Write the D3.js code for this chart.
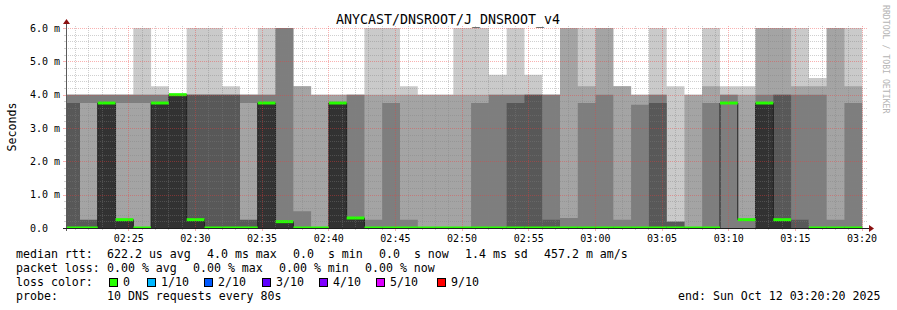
<!DOCTYPE html>
<html>
<head>
<meta charset="utf-8">
<script src="https://cdn.jsdelivr.net/npm/d3@7"></script>
<style>
  body { margin: 0; background: #fff; }
  svg text { font-family: "DejaVu Sans Mono", monospace; fill: #000; }
</style>
</head>
<body>
<svg id="chart" width="897" height="310"></svg>
<script>
"use strict";

// start of each 80s step (time of day, 12 Oct 2025)
var stepStarts = [
  "02:20:03", "02:21:23", "02:22:43", "02:24:03", "02:25:23", "02:26:43", "02:28:03", "02:29:23", "02:30:43", "02:32:03",
  "02:33:23", "02:34:43", "02:36:03", "02:37:23", "02:38:43", "02:40:03", "02:41:23", "02:42:43", "02:44:03", "02:45:23",
  "02:46:43", "02:48:03", "02:49:23", "02:50:43", "02:52:03", "02:53:23", "02:54:43", "02:56:03", "02:57:23", "02:58:43",
  "03:00:03", "03:01:23", "03:02:43", "03:04:03", "03:05:23", "03:06:43", "03:08:03", "03:09:23", "03:10:43", "03:12:03",
  "03:13:23", "03:14:43", "03:16:03", "03:17:23", "03:18:43"
];

// ping1..ping10 per step, ms (smoke)
var pings = [
  [0, 0, 0, 0, 0, 0, 3.75, 4, 4, 4],
  [0, 0, 3.75, 0, 0, 0, 0.25, 4, 4, 4],
  [0, 0, 0, 0, 0, 3.75, 3.75, 4, 4, 4],
  [0, 0, 3.75, 0, 0, 0.25, 0, 4, 4, 4],
  [0, 0, 3.75, 0, 0, 0, 0, 4, 4, 6],
  [0, 0, 0, 0, 0, 3.75, 3.75, 4, 4, 4.25],
  [0, 0, 0, 0, 0, 4, 4, 4, 4, 4],
  [0, 0, 0, 0, 0, 0.25, 4, 4, 4, 6],
  [0, 0, 0, 0, 0, 0, 4, 4, 4, 6],
  [0, 0, 0, 0, 0, 0, 4, 4, 4, 4.25],
  [0, 0, 3.75, 0, 0, 0, 0.25, 4, 4, 4],
  [0, 0, 0, 0, 0, 3.75, 3.75, 4, 4, 6],
  [0, 0, 0, 0, 0, 0.19, 0.19, 6, 6, 6],
  [0, 0, 0, 0, 0, 0, 0, 0.5, 4.25, 4.25],
  [0, 0, 0, 0, 0, 0, 0, 0, 4, 4],
  [0, 0, 0, 0, 0, 3.75, 3.75, 3.75, 4, 4],
  [0, 0, 0, 0, 0, 0.3, 0.3, 4, 4, 4],
  [0, 0, 0, 0, 0, 0, 0, 0.25, 4, 6],
  [0, 0, 0, 0, 0, 0, 0, 3.75, 4, 6],
  [0, 0, 0, 0, 0, 0, 0, 0.25, 4, 4.25],
  [0, 0, 0, 0, 0, 0, 0, 0, 4, 4],
  [0, 0, 0, 0, 0, 0, 0, 0, 4, 4],
  [0, 0, 0, 0, 0, 0, 0, 0, 4, 6],
  [0, 0, 0, 0, 0, 0, 0, 3.75, 4, 6],
  [0, 0, 0, 0, 0, 0, 0, 4, 4, 4.6],
  [0, 0, 0, 0, 0, 0, 3.75, 4, 4, 6],
  [0, 0, 0, 0, 0, 0, 4, 4, 4, 4.6],
  [0, 0, 0, 0, 0, 0, 0.25, 4, 4, 4],
  [0, 0, 0, 0, 0, 0, 0, 0.3, 6, 6],
  [0, 0, 0, 0, 0, 0, 0, 3.75, 4.25, 6],
  [0, 0, 0, 0, 0, 0, 0, 4, 6, 6],
  [0, 0, 0, 0, 0, 0, 0, 0.25, 4.25, 4.25],
  [0, 0, 0, 0, 0, 0, 0, 3.7, 4, 4],
  [0, 0, 0, 0, 0, 0, 3.75, 4, 4, 6],
  [0, 0, 0, 0, 0, 0, 0.19, 0.19, 0.19, 4.25],
  [0, 0, 0, 0, 0, 0, 0, 0, 4, 4],
  [0, 0, 0, 0, 0, 0, 0, 3.75, 4.25, 6],
  [0, 0, 0, 3.75, 3.75, 3.75, 3.75, 4, 4, 4.25],
  [0, 0, 0, 0.25, 0.25, 0.25, 0.25, 0.25, 4, 4.25],
  [0, 0, 0, 0, 0, 3.75, 3.75, 4, 6, 6],
  [0, 0, 0, 0, 0, 0.25, 4, 4, 6, 6],
  [0, 0, 0, 0, 0, 0, 0.25, 4, 4.25, 6],
  [0, 0, 0, 0, 0, 0, 0, 4, 4.25, 4.5],
  [0, 0, 0, 0, 0, 0, 0, 0.25, 6, 6],
  [0, 0, 0, 0, 0, 0, 0, 3.75, 4.25, 6]
];

// median rtt per step, ms (null = no value)
var medians = [
  0, 0, 3.75, 0.25, 0, 3.75, 4, 0.25, 0, 0,
  0, 3.75, 0.19, 0, 0, 3.75, 0.3, 0, 0, 0,
  0, 0, 0, 0, 0, 0, 0, 0, 0, 0,
  0, 0, 0, 0, 0, 0, 0, 3.75, 0.25, 3.75,
  0.25, null, 0, 0, 0
];

// lost requests per step (out of 10)
var losses = [
  0, 0, 0, 0, 0, 0, 0, 0, 0, 0,
  0, 0, 0, 0, 0, 0, 0, 0, 0, 0,
  0, 0, 0, 0, 0, 0, 0, 0, 0, 0,
  0, 0, 0, 0, 0, 0, 0, 0, 0, 0,
  0, 0, 0, 0, 0
];

var yTickValues = [0, 1, 2, 3, 4, 5, 6];
var yTickLabels = ["0.0", "1.0 m", "2.0 m", "3.0 m", "4.0 m", "5.0 m", "6.0 m"];

var lossLevels = [0, 1, 2, 3, 4, 5, 9];
var lossLabels = ["0", "1/10", "2/10", "3/10", "4/10", "5/10", "9/10"];
var lossColors = ["#26ff00", "#00b8ff", "#0059ff", "#5e00ff", "#7e00ff", "#dd00ff", "#ff0000"];

var stepSeconds = 80;
var windowStart = "02:20:20";
var windowEnd = "03:20:20";

// ---- scales
var parseTime = d3.timeParse("%Y-%m-%d %H:%M:%S");
function t(s) { return parseTime("2025-10-12 " + s); }

var plotLeft = 66, plotRight = 866, plotTop = 28, plotBottom = 228;

var x = d3.scaleTime()
  .domain([t(windowStart), t(windowEnd)])
  .range([plotLeft, plotRight]);
var y = d3.scaleLinear()
  .domain([0, 6])
  .range([plotBottom, plotTop]);

var steps = stepStarts.map(function(s, i) {
  var t0 = t(s);
  return { t0: t0, t1: d3.timeSecond.offset(t0, stepSeconds), p: pings[i], m: medians[i], loss: losses[i] };
});

var svg = d3.select("#chart");
svg.append("rect").attr("width", 897).attr("height", 310).attr("fill", "#fff");

svg.append("clipPath").attr("id", "plot-clip")
  .append("rect")
  .attr("x", plotLeft).attr("y", plotTop - 1)
  .attr("width", plotRight - plotLeft).attr("height", plotBottom - plotTop + 2);

var plot = svg.append("g").attr("clip-path", "url(#plot-clip)");

// ---- smoke: band i spans ping(i) .. ping(11-i), inner bands darker
var half = 5;
var stepPoints = steps.concat([{ t0: steps[steps.length - 1].t1, p: steps[steps.length - 1].p }]);
for (var b = 0; b < half; b++) {
  var g = Math.floor(190 / half * (half - 1 - b)) + 50;
  var area = d3.area()
    .curve(d3.curveStepAfter)
    .x(function(d) { return x(d.t0); })
    .y0((function(bi) { return function(d) { return y(Math.min(d.p[bi], d.p[9 - bi])); }; })(b))
    .y1((function(bi) { return function(d) { return y(Math.max(d.p[bi], d.p[9 - bi])); }; })(b));
  plot.append("path")
    .attr("d", area(stepPoints))
    .attr("fill", d3.rgb(g, g, g));
}

// ---- grid (drawn over the smoke)
var grid = svg.append("g").attr("class", "grid");
var minorCol = "rgba(130,130,130,0.38)";
var majorCol = "rgba(240,60,60,0.4)";

var minorY = d3.range(1, 30).map(function(k) { return k * 0.2; })
  .filter(function(v) { return Math.abs(v - Math.round(v)) > 1e-6; });
minorY.forEach(function(v) {
  var yy = Math.round(y(v)) + 0.5;
  grid.append("line").attr("x1", plotLeft).attr("x2", plotRight + 2).attr("y1", yy).attr("y2", yy)
    .attr("stroke", minorCol).attr("stroke-dasharray", "1,1");
  grid.append("line").attr("x1", plotLeft - 2).attr("x2", plotLeft).attr("y1", yy).attr("y2", yy)
    .attr("stroke", minorCol);
});
yTickValues.slice(1).forEach(function(v) {
  var yy = Math.round(y(v)) + 0.5;
  grid.append("line").attr("x1", plotLeft).attr("x2", plotRight + 2).attr("y1", yy).attr("y2", yy)
    .attr("stroke", majorCol).attr("stroke-dasharray", "1,1");
  grid.append("line").attr("x1", plotLeft - 3).attr("x2", plotLeft).attr("y1", yy).attr("y2", yy)
    .attr("stroke", majorCol);
});

var minorTimes = x.ticks(d3.timeMinute.every(1));
minorTimes.forEach(function(d) {
  var major = d.getMinutes() % 5 === 0;
  var xx = Math.round(x(d)) + 0.5;
  grid.append("line").attr("x1", xx).attr("x2", xx).attr("y1", plotTop - 2).attr("y2", plotBottom)
    .attr("stroke", major ? majorCol : minorCol).attr("stroke-dasharray", "1,1");
  grid.append("line").attr("x1", xx).attr("x2", xx).attr("y1", plotBottom).attr("y2", plotBottom + (major ? 3 : 2))
    .attr("stroke", major ? majorCol : minorCol);
});

// ---- median line (dark step line) and loss-coloured marks
var medLine = d3.line()
  .defined(function(d) { return d.m !== null && d.m !== undefined; })
  .curve(d3.curveStepAfter)
  .x(function(d) { return x(d.t0); })
  .y(function(d) { return y(d.m); });
var medPoints = steps.concat([{ t0: steps[steps.length - 1].t1, m: steps[steps.length - 1].m }]);
plot.append("path")
  .attr("d", medLine(medPoints))
  .attr("fill", "none")
  .attr("stroke", "#202020")
  .attr("stroke-width", 1);

function lossColor(l) {
  var c = lossColors[0];
  lossLevels.forEach(function(lv, i) { if (l >= lv) c = lossColors[i]; });
  return c;
}
plot.selectAll(".med")
  .data(steps.filter(function(d) { return d.m !== null; }))
  .enter().append("rect")
  .attr("class", "med")
  .attr("x", function(d) { return x(d.t0); })
  .attr("width", function(d) { return x(d.t1) - x(d.t0); })
  .attr("y", function(d) { return y(d.m) - 1.5; })
  .attr("height", 3)
  .attr("fill", function(d) { return lossColor(d.loss); });

// ---- axes
var axisCol = "#5a5a5a";
var arrowCol = "#8b1010";
svg.append("line").attr("x1", plotLeft + 0.5).attr("x2", plotLeft + 0.5)
  .attr("y1", plotBottom + 3).attr("y2", plotTop - 5).attr("stroke", axisCol);
svg.append("line").attr("x1", plotLeft - 3).attr("x2", plotRight + 4)
  .attr("y1", plotBottom + 0.5).attr("y2", plotBottom + 0.5).attr("stroke", "#202020");
svg.append("path")
  .attr("d", "M" + (plotLeft - 3) + "," + (plotTop - 4) + "L" + (plotLeft + 0.5) + "," + (plotTop - 9) + "L" + (plotLeft + 4) + "," + (plotTop - 4) + "Z")
  .attr("fill", arrowCol);
svg.append("path")
  .attr("d", "M" + (plotRight + 3) + "," + (plotBottom - 3) + "L" + (plotRight + 8) + "," + (plotBottom + 0.5) + "L" + (plotRight + 3) + "," + (plotBottom + 4) + "Z")
  .attr("fill", arrowCol);

// y labels
svg.selectAll(".ylab")
  .data(yTickValues)
  .enter().append("text")
  .attr("class", "ylab")
  .attr("x", 30)
  .attr("y", function(d) { return y(d) + 3.5; })
  .style("font-size", "10px")
  .text(function(d, i) { return yTickLabels[i]; });

// x labels
var xAxis = d3.axisBottom(x)
  .ticks(d3.timeMinute.every(5))
  .tickFormat(d3.timeFormat("%H:%M"))
  .tickSize(0)
  .tickPadding(7);
var gx = svg.append("g").attr("transform", "translate(0," + plotBottom + ")").call(xAxis);
gx.select(".domain").remove();
gx.selectAll("text").style("font-size", "10px").attr("fill", "#000")
  .style("font-family", "'DejaVu Sans Mono', monospace");

// ---- titles
svg.append("text")
  .attr("x", 448).attr("y", 24)
  .attr("text-anchor", "middle")
  .style("font-size", "13.3px")
  .text("ANYCAST/DNSROOT/J_DNSROOT_v4");

svg.append("text")
  .attr("transform", "translate(16,127) rotate(-90)")
  .attr("text-anchor", "middle")
  .style("font-size", "11.6px")
  .text("Seconds");

svg.append("text")
  .attr("transform", "translate(883,5) rotate(90)")
  .style("font-size", "8.2px")
  .style("fill", "#b4b4b4")
  .text("RRDTOOL / TOBI OETIKER");

// ---- legend
var legend = svg.append("g").style("font-size", "11.6px");
function leg(txt, xx, yy) {
  legend.append("text").attr("x", xx).attr("y", yy).attr("xml:space", "preserve").text(txt);
}
leg("median rtt:", 16, 258);
leg("622.2 us avg", 107, 258);
leg("4.0 ms max", 207, 258);
leg("0.0  s min", 293, 258);
leg("0.0  s now", 379, 258);
leg("1.4 ms sd", 465, 258);
leg("457.2 m am/s", 544, 258);

leg("packet loss:", 16, 272);
leg("0.00 % avg", 107, 272);
leg("0.00 % max", 193, 272);
leg("0.00 % min", 279, 272);
leg("0.00 % now", 365, 272);

leg("loss color:", 16, 286);
var boxX = [109, 147, 204, 262, 319, 376, 437];
lossLabels.forEach(function(lbl, i) {
  legend.append("rect")
    .attr("x", boxX[i] + 0.5).attr("y", 278.5)
    .attr("width", 8).attr("height", 8)
    .attr("fill", lossColors[i]).attr("stroke", "#000");
  leg(lbl, boxX[i] + 14, 286);
});

leg("probe:", 16, 300);
leg("10 DNS requests every 80s", 107, 300);
leg("end: Sun Oct 12 03:20:20 2025", 678, 300);
</script>
</body>
</html>
